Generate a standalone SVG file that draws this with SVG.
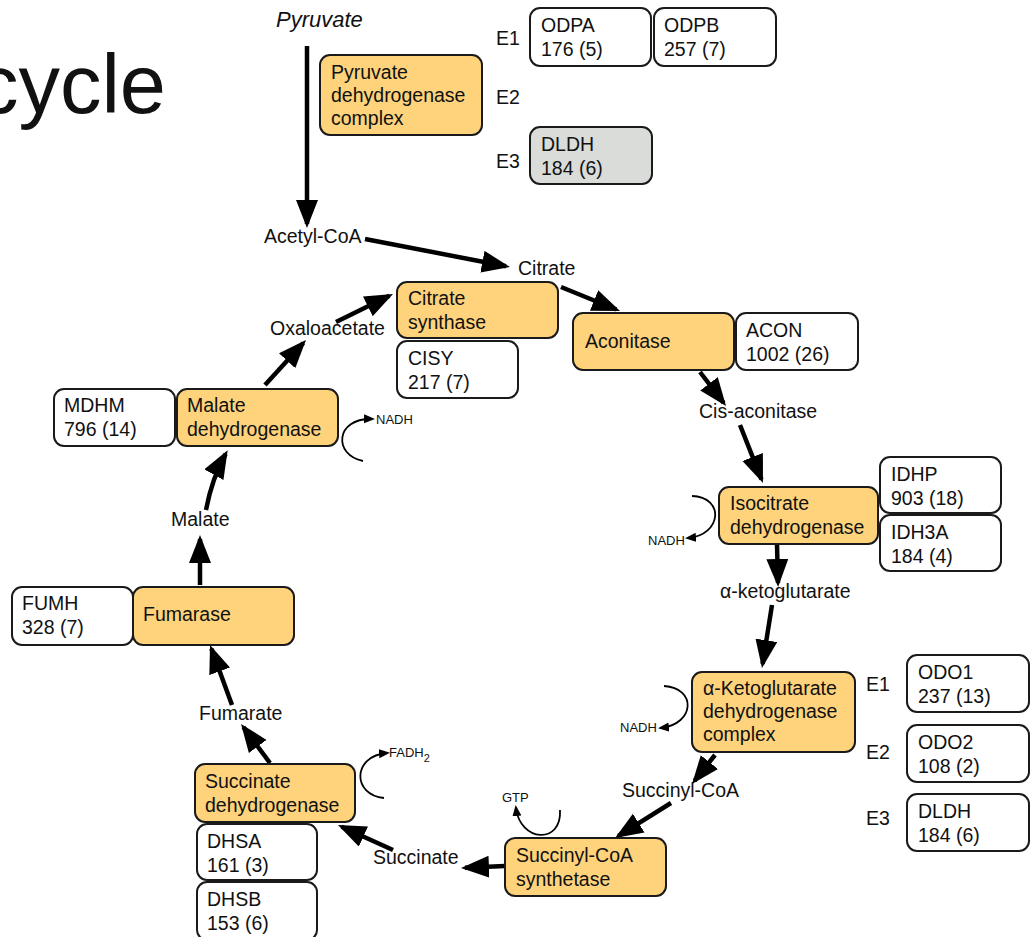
<svg xmlns="http://www.w3.org/2000/svg" width="1032" height="937" viewBox="0 0 1032 937">
<style>
text{font-family:"Liberation Sans",Arial,sans-serif;fill:#111;}
.t{font-size:19.5px;}
.s{font-size:13px;}
.enz{fill:#FED37C;stroke:#1a1a1a;stroke-width:2;}
.pro{fill:#fff;stroke:#1a1a1a;stroke-width:2;}
.grey{fill:#D9DCD8;stroke:#1a1a1a;stroke-width:2;}
.main{fill:none;stroke:#000;stroke-width:4.5;marker-end:url(#big);}
.curl{fill:none;stroke:#000;stroke-width:1.8;marker-end:url(#small);}
</style>
<defs>
<marker id="big" markerUnits="userSpaceOnUse" markerWidth="30" markerHeight="24" refX="24" refY="11" orient="auto">
<path d="M0,0 L28,11 L0,22 Z" fill="#000"/>
</marker>
<marker id="small" markerUnits="userSpaceOnUse" markerWidth="12" markerHeight="10" refX="8" refY="4.5" orient="auto">
<path d="M0,0 L11,4.5 L0,9 Z" fill="#000"/>
</marker>
</defs>
<rect width="1032" height="937" fill="#fff"/>
<text x="166" y="113" text-anchor="end" style="font-size:83px">cycle</text>

<g id="connectors">
<path class="main" d="M307,46 L307,224"/>
<path class="main" d="M365,239 L506,266.2"/>
<path class="main" d="M561,287 L616.3,309.5"/>
<path class="main" d="M336,322 L389.4,295.8"/>
<path class="main" d="M265,385 L303.3,343"/>
<path class="main" d="M700,372 L723.6,402.8"/>
<path class="main" d="M740,425 L761.5,479.3"/>
<path class="main" d="M777,545 L778,583"/>
<path class="main" d="M772,605 L762.6,664"/>
<path class="main" d="M715,755 L694.5,780.9"/>
<path class="main" d="M671,803 L618.4,835.9"/>
<path class="main" d="M505,866 L465,867.8"/>
<path class="main" d="M393,850 L341.6,826.7"/>
<path class="main" d="M270,763 L243.4,727.2"/>
<path class="main" d="M232,705 L211.4,648.8"/>
<path class="main" d="M200,585 L200,539"/>
<path class="main" d="M206,510 Q212,478 225.7,453.8"/>
<path class="curl" d="M363,461 C333,455 335,418 372,419"/>
<path class="curl" d="M692,496 C725,497 722,535 688,538"/>
<path class="curl" d="M664,686 C697,688 695,724 661,728"/>
<path class="curl" d="M384,798 C352,795 352,756 387,753"/>
<path class="curl" d="M560,810 C562,845 520,842 516,808"/>
</g>

<g id="metabolites">
<text x="276" y="27" style="font-size:22px;font-style:italic">Pyruvate</text>
<text class="t" x="264" y="243">Acetyl-CoA</text>
<text class="t" x="518" y="275">Citrate</text>
<text class="t" x="270" y="335">Oxaloacetate</text>
<text class="t" x="699" y="418">Cis-aconitase</text>
<text class="t" x="720" y="598">α-ketoglutarate</text>
<text class="t" x="622" y="797">Succinyl-CoA</text>
<text class="t" x="373" y="864">Succinate</text>
<text class="t" x="199" y="720">Fumarate</text>
<text class="t" x="171" y="526">Malate</text>
<text class="s" x="376" y="424">NADH</text>
<text class="s" x="648" y="545">NADH</text>
<text class="s" x="620" y="732">NADH</text>
<text class="s" x="502" y="802">GTP</text>
<text class="s" x="389" y="757">FADH<tspan dy="5" style="font-size:11px">2</tspan></text>
</g>

<g id="pdc">
<rect class="enz" x="320" y="55" width="162" height="80" rx="10"/>
<text class="t" x="331" y="79">Pyruvate</text>
<text class="t" x="331" y="102">dehydrogenase</text>
<text class="t" x="331" y="125">complex</text>
<text class="t" x="496" y="45">E1</text>
<text class="t" x="496" y="104">E2</text>
<text class="t" x="496" y="168">E3</text>
</g>
<g id="odpa"><rect class="pro" x="530" y="8" width="121" height="58" rx="10"/><text class="t" x="541" y="32">ODPA</text><text class="t" x="541" y="56">176 (5)</text></g>
<g id="odpb"><rect class="pro" x="654" y="8" width="122" height="58" rx="10"/><text class="t" x="664" y="32">ODPB</text><text class="t" x="664" y="56">257 (7)</text></g>
<g id="dldh1"><rect class="grey" x="530" y="127" width="122" height="57" rx="10"/><text class="t" x="541" y="151">DLDH</text><text class="t" x="541" y="175">184 (6)</text></g>

<g id="cs"><rect class="enz" x="397" y="282" width="161" height="56" rx="10"/><text class="t" x="408" y="305">Citrate</text><text class="t" x="408" y="329">synthase</text></g>
<g id="cisy"><rect class="pro" x="397" y="341" width="121" height="57" rx="10"/><text class="t" x="408" y="365">CISY</text><text class="t" x="408" y="389">217 (7)</text></g>

<g id="aco"><rect class="enz" x="573" y="313" width="161" height="57" rx="10"/><text class="t" x="585" y="348">Aconitase</text></g>
<g id="acon"><rect class="pro" x="736" y="313" width="122" height="57" rx="10"/><text class="t" x="746" y="337">ACON</text><text class="t" x="746" y="361">1002 (26)</text></g>

<g id="idh"><rect class="enz" x="719" y="487" width="159" height="57" rx="10"/><text class="t" x="730" y="510">Isocitrate</text><text class="t" x="730" y="534">dehydrogenase</text></g>
<g id="idhp"><rect class="pro" x="880" y="457" width="121" height="56" rx="10"/><text class="t" x="891" y="481">IDHP</text><text class="t" x="891" y="505">903 (18)</text></g>
<g id="idh3a"><rect class="pro" x="880" y="515" width="121" height="56" rx="10"/><text class="t" x="891" y="539">IDH3A</text><text class="t" x="891" y="563">184 (4)</text></g>

<g id="akgdh">
<rect class="enz" x="692" y="672" width="163" height="80" rx="10"/>
<text class="t" x="703" y="695">α-Ketoglutarate</text>
<text class="t" x="703" y="718">dehydrogenase</text>
<text class="t" x="703" y="741">complex</text>
<text class="t" x="866" y="691">E1</text>
<text class="t" x="866" y="759">E2</text>
<text class="t" x="866" y="825">E3</text>
</g>
<g id="odo1"><rect class="pro" x="907" y="655" width="122" height="57" rx="10"/><text class="t" x="918" y="679">ODO1</text><text class="t" x="918" y="703">237 (13)</text></g>
<g id="odo2"><rect class="pro" x="907" y="725" width="122" height="57" rx="10"/><text class="t" x="918" y="749">ODO2</text><text class="t" x="918" y="773">108 (2)</text></g>
<g id="dldh2"><rect class="pro" x="907" y="794" width="122" height="57" rx="10"/><text class="t" x="918" y="818">DLDH</text><text class="t" x="918" y="842">184 (6)</text></g>

<g id="scs"><rect class="enz" x="505" y="838" width="161" height="58" rx="10"/><text class="t" x="516" y="862">Succinyl-CoA</text><text class="t" x="516" y="886">synthetase</text></g>

<g id="sdh"><rect class="enz" x="195" y="764" width="160" height="58" rx="10"/><text class="t" x="205" y="788">Succinate</text><text class="t" x="205" y="812">dehydrogenase</text></g>
<g id="dhsa"><rect class="pro" x="197" y="824" width="120" height="56" rx="10"/><text class="t" x="207" y="848">DHSA</text><text class="t" x="207" y="872">161 (3)</text></g>
<g id="dhsb"><rect class="pro" x="197" y="882" width="120" height="58" rx="10"/><text class="t" x="207" y="906">DHSB</text><text class="t" x="207" y="930">153 (6)</text></g>

<g id="fum"><rect class="enz" x="133" y="587" width="161" height="58" rx="10"/><text class="t" x="143" y="621">Fumarase</text></g>
<g id="fumh"><rect class="pro" x="12" y="587" width="121" height="58" rx="10"/><text class="t" x="22" y="610">FUMH</text><text class="t" x="22" y="634">328 (7)</text></g>

<g id="mdh"><rect class="enz" x="177" y="389" width="161" height="57" rx="10"/><text class="t" x="187" y="412">Malate</text><text class="t" x="187" y="436">dehydrogenase</text></g>
<g id="mdhm"><rect class="pro" x="54" y="389" width="121" height="57" rx="10"/><text class="t" x="64" y="412">MDHM</text><text class="t" x="64" y="436">796 (14)</text></g>
</svg>
